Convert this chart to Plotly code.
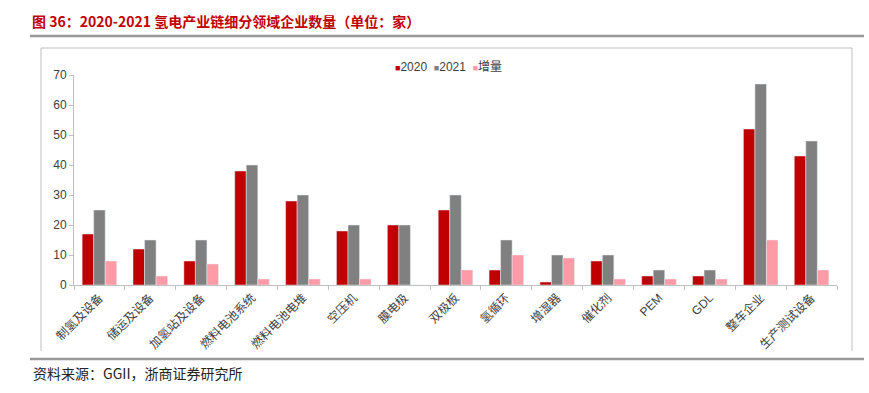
import plotly.graph_objects as go

categories = ["制氢及设备", "储运及设备", "加氢站及设备", "燃料电池系统", "燃料电池电堆",
              "空压机", "膜电极", "双极板", "氢循环", "增湿器", "催化剂", "PEM", "GDL",
              "整车企业", "生产测试设备"]
v2020 = [17, 12, 8, 38, 28, 18, 20, 25, 5, 1, 8, 3, 3, 52, 43]
v2021 = [25, 15, 15, 40, 30, 20, 20, 30, 15, 10, 10, 5, 5, 67, 48]
delta = [8, 3, 7, 2, 2, 2, 0, 5, 10, 9, 2, 2, 2, 15, 5]
series_names = ["2020", "2021", "增量"]
colors = ["#C00000", "#808080", "#FF9BA6"]

W, H = 869, 393
L, R, T, B = 74, 837, 75, 285
pw, ph = R - L, B - T

def px(x):
    return (x - L) / pw

def py(y):
    return (B - y) / ph

FONT = "Liberation Sans, Noto Sans CJK SC, sans-serif"

fig = go.Figure()
for name, vals, c in zip(series_names, [v2020, v2021, delta], colors):
    fig.add_bar(x=categories, y=vals, name=name, marker_color=c, showlegend=False)

shapes = [
    dict(type="line", xref="paper", yref="paper", x0=px(30), x1=px(864), y0=py(36), y1=py(36),
         line=dict(color="#999999", width=2.5)),
    dict(type="line", xref="paper", yref="paper", x0=px(41), x1=px(852), y0=py(48), y1=py(48),
         line=dict(color="#BFBFBF", width=1)),
    dict(type="line", xref="paper", yref="paper", x0=px(41), x1=px(41), y0=py(48), y1=py(351),
         line=dict(color="#BFBFBF", width=1)),
    dict(type="line", xref="paper", yref="paper", x0=px(852), x1=px(852), y0=py(48), y1=py(351),
         line=dict(color="#BFBFBF", width=1)),
    dict(type="line", xref="paper", yref="paper", x0=px(30), x1=px(864), y0=py(359), y1=py(359),
         line=dict(color="#999999", width=2.5)),
]

legend_text = "&nbsp;&nbsp;".join(
    f'<span style="color:{c}; font-size:9px">■</span>{n}' for n, c in zip(series_names, colors)
)

annotations = [
    dict(text="<b>图 36：2020-2021 氢电产业链细分领域企业数量（单位：家）</b>", xref="paper", yref="paper",
         x=px(30), y=py(21), xanchor="left", yanchor="middle", showarrow=False,
         font=dict(family="Noto Sans CJK SC, sans-serif", size=14, color="#C00000")),
    dict(text="资料来源：GGII，浙商证券研究所", xref="paper", yref="paper",
         x=px(31), y=py(373), xanchor="left", yanchor="middle", showarrow=False,
         font=dict(family="Noto Sans CJK SC, sans-serif", size=14, color="#222222")),
    dict(text=legend_text, xref="paper", yref="paper",
         x=px(448), y=py(67), xanchor="center", yanchor="middle", showarrow=False,
         font=dict(family=FONT, size=12, color="#404040")),
]

fig.update_layout(
    width=W, height=H,
    margin=dict(l=L, r=W - R, t=T, b=H - B, autoexpand=False),
    paper_bgcolor="white", plot_bgcolor="white",
    barmode="group", bargap=0.32, bargroupgap=0,
    font=dict(family=FONT, size=12, color="#404040"),
    showlegend=False,
    shapes=shapes, annotations=annotations,
    xaxis=dict(type="category", showline=True, linecolor="#BFBFBF", linewidth=1,
               ticks="outside", tickson="boundaries", ticklen=4, tickcolor="#BFBFBF",
               tickangle=-45, tickfont=dict(size=12, color="#404040"), showgrid=False),
    yaxis=dict(range=[0, 70], dtick=10, showline=True, linecolor="#BFBFBF", linewidth=1,
               ticks="outside", ticklen=4, tickcolor="#BFBFBF", showgrid=False, zeroline=False,
               tickfont=dict(size=12, color="#404040")),
)

fig.write_html("out.html", config={"displayModeBar": False},
               post_script="document.body.style.margin='0px';")
